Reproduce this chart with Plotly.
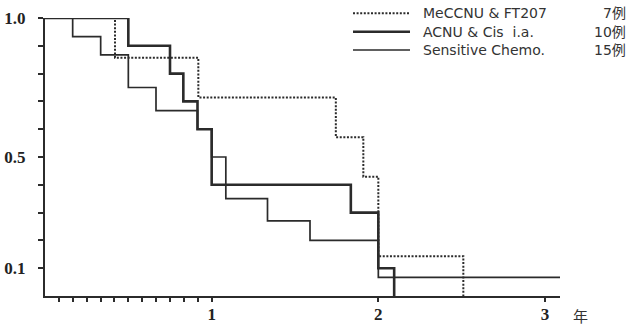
import plotly.graph_objects as go

# ---- data (time in years, survival fraction) ----
series_names = ["MeCCNU & FT207", "ACNU & Cis\u00a0\u00a0i.a.", "Sensitive Chemo."]
series_counts = ["7例", "10例", "15例"]

mec_t = [0, 0.42, 0.92, 1.745, 1.91, 2.0, 2.51]
mec_s = [1.0, 0.857, 0.714, 0.571, 0.429, 0.143, 0.0]

acnu_t = [0, 0.5, 0.75, 0.83, 0.915, 1.0, 1.835, 2.0, 2.095]
acnu_s = [1.0, 0.9, 0.8, 0.7, 0.6, 0.4, 0.3, 0.1, 0.0]

sens_t = [0, 0.166, 0.334, 0.5, 0.666, 0.915, 1.0, 1.085, 1.335, 1.59, 2.0, 3.09]
sens_s = [1.0, 0.933, 0.867, 0.75, 0.667, 0.6, 0.5, 0.35, 0.27, 0.2, 0.067, 0.067]

x_tick_vals = [m / 12 for m in range(1, 12)] + [1, 2, 3]
x_tick_text = [""] * 11 + ["1", "2", "3"]
y_tick_vals = [0.1, 0.2, 0.3, 0.4, 0.5, 0.6, 0.7, 0.8, 0.9, 1.0]
y_tick_text = ["0.1", "", "", "", "0.5", "", "", "", "", "1.0"]
x_unit = "年"

INK = "#2b2b2b"
DOT = "2px,1.6px"
styles = [
    dict(color=INK, width=2, dash=DOT),
    dict(color=INK, width=2.6),
    dict(color=INK, width=1.7),
]

fig = go.Figure()
for (t, s), st, name in zip([(mec_t, mec_s), (acnu_t, acnu_s), (sens_t, sens_s)], styles, series_names):
    fig.add_trace(go.Scatter(x=t, y=s, mode="lines", line=dict(shape="hv", **st),
                             name=name, showlegend=False))

# ---- legend drawn with shapes and annotations ----
L, R, T, B = 45, 68, 18, 31
W, H = 628, 327
pw, ph = W - L - R, H - T - B
def px_x(px):
    return (px - L) / pw
def px_y(py):
    return (H - B - py) / ph

rows_y = [13.3, 31.7, 50.0]
leg_font = dict(family="DejaVu Sans, Noto Sans CJK JP", size=14, color="#333333")
for i, (name, cnt, st) in enumerate(zip(series_names, series_counts, styles)):
    y = px_y(rows_y[i])
    fig.add_shape(type="line", xref="paper", yref="paper",
                  x0=px_x(353), x1=px_x(410), y0=y, y1=y, line=st)
    fig.add_annotation(xref="paper", yref="paper", x=px_x(422), y=y, text=name,
                       showarrow=False, xanchor="left", yanchor="middle", font=leg_font,
                       borderpad=0)
    fig.add_annotation(xref="paper", yref="paper", x=px_x(627), y=y, text=cnt,
                       showarrow=False, xanchor="right", yanchor="middle", font=leg_font,
                       borderpad=0)

fig.add_annotation(xref="paper", yref="paper", x=px_x(580), y=px_y(315), text=x_unit,
                   showarrow=False, xanchor="center", yanchor="middle", borderpad=0,
                   font=dict(family="Noto Sans CJK JP", size=15, color="#333333"))

tick_font = dict(family="Liberation Serif, Times New Roman, serif", size=17, color="#222222", weight="bold")

fig.update_layout(
    width=W, height=H,
    margin=dict(l=L, r=R, t=T, b=B, pad=0, autoexpand=False),
    paper_bgcolor="white", plot_bgcolor="white",
    xaxis=dict(range=[0, 3.09], showgrid=False, zeroline=False, showline=True, automargin=False,
               linecolor=INK, linewidth=2, ticks="outside", ticklen=4, tickwidth=1.5,
               tickcolor=INK, tickvals=x_tick_vals, ticktext=x_tick_text,
               tickfont=tick_font, ticklabelstandoff=-2),
    yaxis=dict(range=[0, 1.0], showgrid=False, zeroline=False, showline=True, automargin=False,
               linecolor=INK, linewidth=2, ticks="outside", ticklen=5, tickwidth=1.5,
               tickcolor=INK, tickvals=y_tick_vals, ticktext=y_tick_text,
               tickfont=tick_font, ticklabelstandoff=9),
)

fig.write_html("out.html")
